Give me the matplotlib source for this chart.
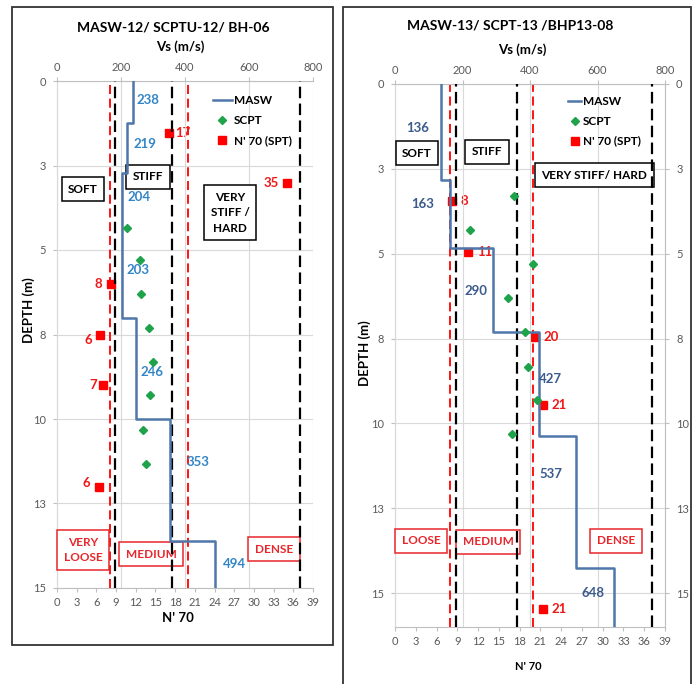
import numpy as np
import matplotlib.pyplot as plt
from matplotlib.lines import Line2D
from matplotlib.patches import Rectangle

plt.rcParams['font.family'] = ['Lato', 'DejaVu Sans']

# ---- data, MASW-12 / SCPTU-12 / BH-06
masw12_depth = [0, 1.23, 2.73, 4.9, 7.0, 10.0, 13.6, 15]
masw12_vs = [238, 219, 204, 203, 246, 353, 494]
scpt12_depth = [4.34, 5.31, 6.30, 7.31, 8.30, 9.29, 10.33, 11.33]
scpt12_vs = [218, 258, 263, 288, 301, 291, 270, 277]
spt12_depth = [1.53, 3.03, 6.0, 7.51, 9.0, 12.0]
spt12_n = [17, 35, 8.3, 6.5, 7, 6.4]

# ---- data, MASW-13 / SCPT-13 / BHP13-08
masw13_depth = [0, 2.83, 4.84, 7.31, 10.38, 14.25, 16]
masw13_vs = [136, 163, 290, 427, 537, 648]
scpt13_depth = [3.31, 4.31, 5.30, 6.30, 7.31, 8.33, 9.31, 10.31]
scpt13_vs = [352, 222, 410, 336, 385, 393, 422, 347]
spt13_depth = [3.45, 4.95, 7.46, 9.46, 15.48]
spt13_n = [8.3, 10.6, 20.2, 21.4, 21.4]

# class boundaries
vs_bounds = [180, 360, 760]
n_bounds = [8, 20]

y_ticks = [0, 2.5, 5, 7.5, 10, 12.5, 15]
y_ticklabels = ['0', '3', '5', '8', '10', '13', '15']
n_ticks = list(range(0, 40, 3))
vs_ticks = [0, 200, 400, 600, 800]

# label placement (not data)
lab12_pos = [(284, 0.56), (275, 1.86), (256, 3.43), (253, 5.59), (297, 8.61), (441, 11.27), (556, 14.29)]
lab13_pos = [(68, 1.30), (83, 3.54), (240, 6.11), (462, 8.68), (462, 11.49), (587, 15.0)]
spt12_off = [(5, 0, 'left'), (-6, 0, 'right'), (-7, 0, 'right'), (-5.5, -4, 'right'), (-4.5, 0, 'right'), (-6.5, 2.5, 'right')]
spt13_off = [(6, 0, 'left')] * 5

masw_col = '#4F77AA'
green = '#1FA34A'
red = '#FF0000'
axcol = '#BFBFBF'
tickcol = '#595959'


def panel(fig, rect, ymax, masw_depth, masw_vs, lab_pos, lab_col,
          scpt_depth, scpt_vs, spt_depth, spt_n, spt_off, right_ticks,
          boxes, legend_pos, hlen):
    ax = fig.add_axes(rect)
    ax2 = ax.twiny()

    ax.set_xlim(0, 39)
    ax.set_ylim(ymax, 0)
    ax2.set_xlim(0, 800)

    # axes styling
    for a in (ax, ax2):
        for s in a.spines.values():
            s.set_visible(False)
    ax.spines['left'].set_visible(True)
    ax.spines['bottom'].set_visible(True)
    ax2.spines['top'].set_visible(True)
    for s in (ax.spines['left'], ax.spines['bottom'], ax2.spines['top']):
        s.set_color(axcol)
    if right_ticks:
        ax.spines['right'].set_visible(True)
        ax.spines['right'].set_color(axcol)

    ax.set_xticks(n_ticks)
    ax.set_yticks(y_ticks)
    ax.set_yticklabels(y_ticklabels)
    ax2.set_xticks(vs_ticks)
    ax.tick_params(axis='both', colors=axcol, labelcolor=tickcol, labelsize=8, length=3, pad=3.5)
    ax.tick_params(axis='y', pad=5, right=right_ticks, labelright=right_ticks)
    ax2.tick_params(axis='x', colors=axcol, labelcolor=tickcol, labelsize=8, length=3, pad=3)

    ax.grid(axis='y', color='#D9D9D9', lw=0.8, zorder=0)
    ax2.grid(axis='x', color='#D9D9D9', lw=0.8, zorder=0)

    # N'70 class lines and SPT points
    for n in n_bounds:
        ax.axvline(n, color=red, lw=1.3, ls=(0, (5, 2.6)), zorder=2)
    ax.plot(spt_n, spt_depth, ls='none', marker='s', ms=6, color=red, zorder=4)
    for n, d, (dx, dy, ha) in zip(spt_n, spt_depth, spt_off):
        ax.annotate(f'{n:.0f}', (n, d), xytext=(dx, dy), textcoords='offset points',
                    ha=ha, va='center', color='#F01818', fontsize=9.5, fontweight='bold')

    # class boxes
    for txt, x, y, c in boxes:
        ax2.text(x, y, txt, ha='center', va='center', fontsize=8.5, fontweight='bold',
                 color=c, linespacing=1.5, zorder=3,
                 bbox=dict(boxstyle='square,pad=0.55', fc='white', ec=c, lw=1.1))

    # Vs class lines
    for v in vs_bounds:
        ax2.axvline(v, color='black', lw=1.6, ls=(0, (5.2, 2.4)), zorder=4)

    # MASW profile
    d = np.array(masw_depth)
    ys = np.column_stack([d[:-1], d[1:]]).ravel()
    xs = np.repeat(masw_vs, 2)
    ax2.plot(xs, ys, color=masw_col, lw=1.8, zorder=5)
    for v, (x, y) in zip(masw_vs, lab_pos):
        ax2.text(x, y, str(v), ha='center', va='center', color=lab_col,
                 fontsize=9.5, fontweight='bold', zorder=6)

    ax2.plot(scpt_vs, scpt_depth, ls='none', marker='D', ms=4.5, color=green, zorder=6)

    handles = [Line2D([], [], color=masw_col, lw=1.8),
               Line2D([], [], ls='none', marker='D', ms=4.5, color=green),
               Line2D([], [], ls='none', marker='s', ms=6, color=red)]
    leg = ax2.legend(handles, ['MASW', 'SCPT', "N' 70 (SPT)"], loc='upper left',
                     bbox_to_anchor=legend_pos, frameon=False, fontsize=8.5,
                     handlelength=hlen, handletextpad=0.15, labelspacing=0.75,
                     borderpad=0, borderaxespad=0)
    for t in leg.get_texts():
        t.set_fontweight('bold')
    return ax, ax2


fig = plt.figure(figsize=(6.97, 6.84), dpi=100)

boxes12 = [('SOFT', 81, 3.20, 'black'), ('STIFF', 284, 2.84, 'black'),
           ('VERY\nSTIFF /\nHARD', 541, 3.9, 'black'),
           ('VERY\nLOOSE', 81, 13.88, '#E8262B'), ('MEDIUM', 294, 14.0, '#E8262B'),
           ('DENSE', 678, 13.85, '#E8262B')]
panel(fig, [57 / 697, 1 - 588 / 684, 256 / 697, 507 / 684], 15,
      masw12_depth, masw12_vs, lab12_pos, '#3385C6',
      scpt12_depth, scpt12_vs, spt12_depth, spt12_n, spt12_off, False,
      boxes12, (0.609, 0.972), 1.6)

boxes13 = [('SOFT', 65, 2.04, 'black'), ('STIFF', 273, 2.0, 'black'),
           ('VERY STIFF/ HARD', 591, 2.69, 'black'),
           ('LOOSE', 77, 13.46, '#E8262B'), ('MEDIUM', 276, 13.49, '#E8262B'),
           ('DENSE', 655, 13.46, '#E8262B')]
panel(fig, [395 / 697, 1 - 627 / 684, 270 / 697, 543 / 684], 16,
      masw13_depth, masw13_vs, lab13_pos, '#3B5B8C',
      scpt13_depth, scpt13_vs, spt13_depth, spt13_n, spt13_off, True,
      boxes13, (0.641, 0.978), 1.1)

# titles and axis labels
fig.text(173 / 697, 1 - 28 / 684, 'MASW-12/ SCPTU-12/ BH-06', ha='center', va='center', fontsize=10, fontweight='bold')
fig.text(180 / 697, 1 - 47 / 684, 'Vs (m/s)', ha='center', va='center', fontsize=9.5, fontweight='bold')
fig.text(178 / 697, 1 - 618 / 684, "N' 70", ha='center', va='center', fontsize=9.5, fontweight='bold')
fig.text(29 / 697, 1 - 310 / 684, 'DEPTH (m)', ha='center', va='center', rotation=90, fontsize=9.5, fontweight='bold')

fig.text(510 / 697, 1 - 25 / 684, 'MASW-13/ SCPT-13 /BHP13-08', ha='center', va='center', fontsize=10, fontweight='bold')
fig.text(522 / 697, 1 - 50 / 684, 'Vs (m/s)', ha='center', va='center', fontsize=9.5, fontweight='bold')
fig.text(528 / 697, 1 - 667 / 684, "N' 70", ha='center', va='center', fontsize=8, fontweight='bold')
fig.text(365 / 697, 1 - 353 / 684, 'DEPTH (m)', ha='center', va='center', rotation=90, fontsize=9.5, fontweight='bold')

# panel frames
fig.add_artist(Rectangle((12 / 697, 1 - 645 / 684), 321 / 697, 638 / 684, transform=fig.transFigure,
                         fill=False, ec='#333333', lw=1.3))
fig.add_artist(Rectangle((343 / 697, -0.05), 348 / 697, 1.05 - 7 / 684, transform=fig.transFigure,
                         fill=False, ec='#333333', lw=1.3))

fig.savefig('out.png', dpi=100)
